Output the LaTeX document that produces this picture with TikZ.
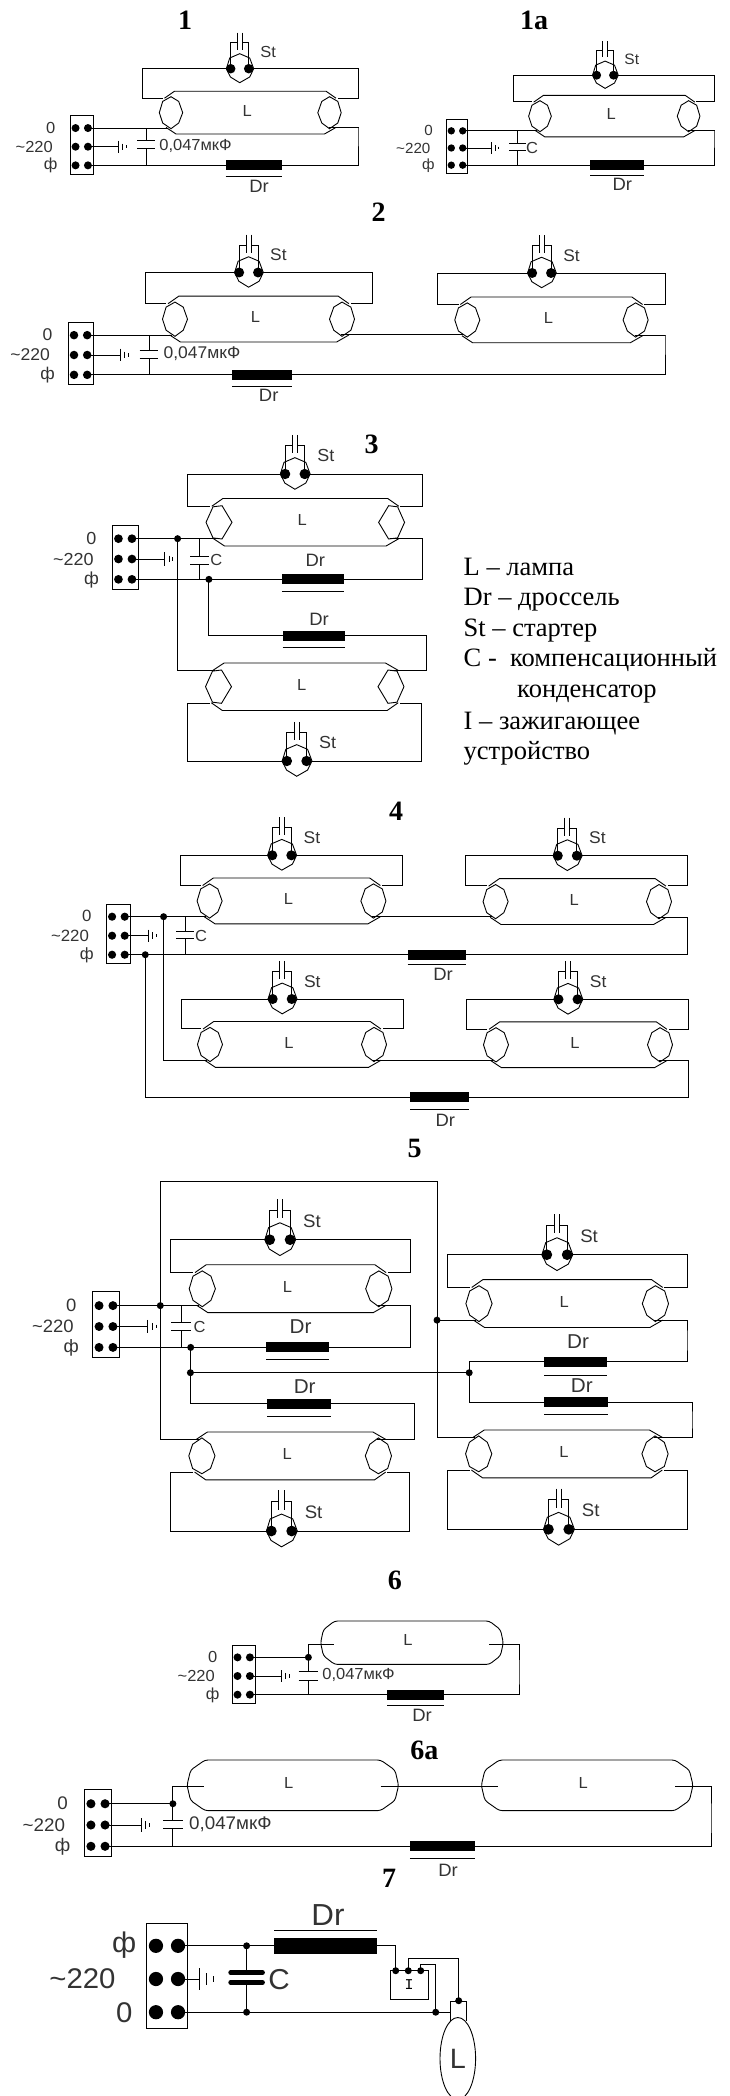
\documentclass[tikz,border=0pt]{standalone}
\usepackage{fontspec}
\setmainfont{Liberation Serif}
\newfontfamily\cadfont[FakeStretch=1.03]{Liberation Sans}
\newfontfamily\cadmono{Liberation Mono}
\usetikzlibrary{calc,shapes.geometric}
\tikzset{
    wire/.style={line width=.9pt},
    capplate/.style={wire},
    tdot/.style={circle,fill=black,inner sep=0pt,minimum size=8pt},
    sdot/.style={circle,fill=black,inner sep=0pt,minimum size=9.5pt},
    jdot/.style={circle,fill=black,inner sep=0pt,minimum size=7pt},
    lbl/.style={font=\cadfont\fontsize{16}{16}\selectfont,text=black!80,inner sep=0pt},
    drl/.style={lbl,scale=1.12},
    figno/.style={font=\bfseries\fontsize{28}{28}\selectfont,inner sep=0pt},
    legendline/.style={font=\fontsize{26.5}{26.5}\selectfont,anchor=base west,inner sep=0pt}
}
\newcommand{\octa}{(0,-16) -- (7.7,-11.3) -- (11.7,0) -- (7.7,10.3) -- (0,16) -- (-8.3,10.3) -- (-11.7,0) -- (-8.3,-11.3) -- cycle}
\newcommand{\hexa}{(-11.7,0) -- (-5.4,-14) -- (2.7,-15) -- (11.7,0) -- (2.7,15) -- (-5.4,14) -- cycle}
\newcommand{\termblock}[7][-31]{
    \begin{scope}[shift={(#3,#4)},scale=#5,transform shape]
        \draw[wire] (-11.75,-31) rectangle (11.75,27.5);
        \foreach \rw/\ry in {a/-18.65,b/0,c/18.65}
        {
            \node[tdot] (#2-\rw0) at (-6.2,\ry) {};
            \node[tdot] (#2-\rw) at (6.2,\ry) {};
        }
        \node[lbl] (#2-ta) at (#1,-19) {#6};
        \node[lbl] (#2-tb) at (-47.5,0) {\textasciitilde220};
        \node[lbl] (#2-tc) at (#1,19) {#7};
    \end{scope}
}
\newcommand{\earth}[4]{
    \coordinate (#1) at (#2,0 |- #3);
    \begin{scope}[shift={(#1)},scale=#4]
        \draw[wire] (0,-6) -- (0,6) (4.1,-3.2) -- (4.1,3.2) (7.5,-1.6) -- (7.5,1.6);
    \end{scope}
}
\newcommand{\capac}[5][3.8]{
    \begin{scope}[shift={(#3,#4)},scale=#5]
        \draw[capplate] (-9,-#1) -- (9,-#1) (-9,#1) -- (9,#1);
        \coordinate (#2-t) at (0,-#1);
        \coordinate (#2-b) at (0,#1);
    \end{scope}
}
\newcommand{\mains}[8]{
    \termblock{b#1}{#2}{#3}{#4}{0}{ф}
    \earth{e#1}{#5}{b#1-b}{#4}
    \capac{c#1}{#6}{#7}{#8}
    \draw[wire] (b#1-b.center) -- (e#1);
    \draw[wire] (c#1-t |- b#1-a) -- (c#1-t) (c#1-b) -- (c#1-b |- b#1-c);
}
\newcommand{\starter}[4]{
    \begin{scope}[shift={(#2,#3)},scale=#4,transform shape]
        \draw[wire] (0,-15) -- (10,-10.7) -- (14,0) -- (10,8.3) -- (0,14) -- (-9.3,8.3) -- (-13.3,0) -- (-10,-10.7) -- cycle;
        \draw[wire] (-9,0) -- (-9,-26) -- (-2.3,-26) (-2.3,-36) -- (-2.3,-19);
        \draw[wire] (9,0) -- (9,-26) -- (2.3,-26) (2.3,-36) -- (2.3,-19);
        \node[sdot] (#1-l) at (-9,0) {};
        \node[sdot] (#1-r) at (9,0) {};
        \node[lbl] (#1-t) at (28.4,-16.7) {St};
    \end{scope}
}
\newcommand{\lamp}[7][\octa]{
    \pgfmathsetmacro\lspan{(#4-#3)/#6}
    \begin{scope}[shift={(#3,#5)},xscale=#6,yscale=#6*#7]
        \draw[wire] (-6.5,-14.5) -- (3.5,-21.5) -- (\lspan-3.5,-21.5) -- (\lspan+6.5,-14.5);
        \draw[wire] (-5,14.7) -- (5,21.3) -- (\lspan-5,21.3) -- (\lspan+6.5,14.7);
        \draw[wire] #1;
        \draw[wire,shift={(\lspan,0)},xscale=-1] #1;
        \coordinate (#2-rl) at (-8,-14.7);
        \coordinate (#2-rr) at (\lspan+8,-14.7);
        \coordinate (#2-fl) at (-3,14.7);
        \coordinate (#2-fr) at (\lspan-1,14.7);
    \end{scope}
    \node[lbl] (#2-t) at ({(#3+#4)/2-3},#5-2) {L};
}
\newcommand{\tube}[6]{
    \pgfmathsetmacro\lspan{#3-#2}
    \begin{scope}[shift={(#2,#4)}]
        \draw[wire,rounded corners=3pt] (0,0) -- (.2*#6,-.6*#5) -- (#6,-#5) -- (\lspan-#6,-#5) -- (\lspan-.2*#6,-.6*#5) -- (\lspan,0)
            -- (\lspan-.2*#6,.6*#5) -- (\lspan-#6,#5) -- (#6,#5) -- (.2*#6,.6*#5) -- cycle;
        \coordinate (#1-fl) at (.95*#6,1.3);
        \coordinate (#1-fr) at (\lspan-#6,1.3);
    \end{scope}
    \node[lbl] (#1-t) at ({(#2+#3)/2-4},#4-2.6) {L};
}
\newcommand{\rails}[5]{
    \draw[wire] (#1-l.center) -- (#4,0 |- #1-l) |- (#2);
    \draw[wire] (#1-r.center) -- (#5,0 |- #1-r) |- (#3);
}
\newcommand{\choke}[6][5]{
    \coordinate (#2-l) at (#3,0 |- #5);
    \coordinate (#2-r) at (#4,0 |- #5);
    \fill ([yshift=#1pt]#2-l) rectangle ([yshift=-#1pt]#2-r);
    \draw[wire] ([yshift=-#6pt]#2-l) -- ([yshift=-#6pt]#2-r);
}
\begin{document}
\begin{tikzpicture}[x=1pt,y=-1pt]
        \useasboundingbox (0,0) rectangle (729,2096);

        \node[figno] (n1) at (185,20) {1};
        \mains{1}{81.75}{146.7}{1}{118.5}{146}{144.5}{1}
        \node[lbl] (v1) at (195.5,146) {0,047мкФ};
        \starter{s1}{239.7}{68.7}{1}
        \lamp{l1}{171}{329.5}{112.7}{1}{1}
        \rails{s1}{l1-rl}{l1-rr}{142.5}{358}
        \choke{d1}{225.7}{282}{b1-c}{11}
        \node[drl] (d1-t) at (259,186) {Dr};
        \coordinate (k1) at (358,127.7);
        \draw[wire] (b1-a.center) -- (b1-a.center -| l1-fl);
        \draw[wire] (b1-c.center) -- (d1-l);
        \draw[wire] (l1-fr) -| (k1) |- (d1-r);

        \node[figno] (n1a) at (534,20) {1a};
        \mains{1a}{457}{148}{.92}{491.6}{517.8}{146.7}{.95}
        \node[lbl] (v1a) at (532,148) {C};
        \starter{s1a}{605.1}{75.2}{.94}
        \lamp{l1a}{540}{688.6}{116.2}{.97}{1}
        \rails{s1a}{l1a-rl}{l1a-rr}{513}{714}
        \choke{d1a}{590}{644}{b1a-c}{10}
        \node[drl] (d1a-t) at (622.4,184) {Dr};
        \coordinate (k1a) at (714,130.7);
        \draw[wire] (b1a-a.center) -- (b1a-a.center -| l1a-fl);
        \draw[wire] (b1a-c.center) -- (d1a-l);
        \draw[wire] (l1a-fr) -| (k1a) |- (d1a-r);

        \node[figno] (n2) at (378.5,212) {2};
        \mains{2}{80.6}{355}{1.064}{120.5}{149}{354.2}{1.05}
        \node[lbl,scale=1.06] (v2) at (202,354) {0,047мкФ};
        \starter{s2a}{248.6}{272.5}{1.05}
        \lamp{l2a}{175}{342}{319.2}{1.07}{1}
        \rails{s2a}{l2a-rl}{l2a-rr}{145}{372.4}
        \starter{s2b}{541.6}{273}{1.05}
        \lamp{l2b}{467.3}{635.6}{320}{1.07}{1}
        \rails{s2b}{l2b-rl}{l2b-rr}{437.9}{665}
        \choke{d2}{232}{292}{b2-c}{11.5}
        \node[drl] (d2-t) at (268.7,395.7) {Dr};
        \coordinate (k2) at (665,335.7);
        \draw[wire] (b2-a.center) -- (b2-a.center -| l2a-fl);
        \draw[wire] (b2-c.center) -- (d2-l);
        \draw[wire] (l2a-fr) -- (l2a-fr -| l2b-fl);
        \draw[wire] (l2b-fr) -| (k2) |- (d2-r);

        \node[figno] (n3) at (371.5,444) {3};
        \mains{3}{125.2}{559}{1.09}{164.5}{199.5}{560}{1.05}
        \node[lbl] (v3) at (216.4,560) {C};
        \node[jdot] (j3a) at (177.6,0 |- b3-a) {};
        \node[jdot] (j3b) at (208.9,0 |- b3-c) {};
        \starter{s3a}{294.9}{474}{1.09}
        \lamp[\hexa]{l3a}{219}{391.6}{522.35}{1.11}{1}
        \rails{s3a}{l3a-rl}{l3a-rr}{187.9}{422.9}
        \choke{d3a}{281.8}{344}{b3-c}{12}
        \node[drl] (d3a-t) at (315.4,560.7) {Dr};
        \choke{d3b}{282.7}{344.9}{0,635.7}{12}
        \node[drl] (d3b-t) at (319,619) {Dr};
        \lamp[\hexa]{l3b}{218.5}{391}{686.65}{1.11}{-1}
        \starter{s3b}{296.7}{761}{1.09}
        \rails{s3b}{l3b-rl}{l3b-rr}{187.4}{421.5}
        \coordinate (k3a) at (422.9,560);
        \coordinate (k3b) at (426.6,650);
        \draw[wire] (b3-a.center) -- (b3-a.center -| l3a-fl);
        \draw[wire] (b3-c.center) -- (d3a-l);
        \draw[wire] (d3a-r) -| (k3a) |- (l3a-fr);
        \draw[wire] (j3b.center) |- (d3b-l);
        \draw[wire] (d3b-r) -| (k3b) |- (l3b-fr);
        \draw[wire] (j3a.center) |- (l3b-fl);

        \foreach \ty/\tx/\txt in {575/463.5/L -- лампа,605.7/463.5/Dr -- дроссель,636.7/463.5/St -- стартер,666.7/463.5/C -\ \ компенсационный,697.7/517/конденсатор,729/463.5/I -- зажигающее,759.3/463.5/устройство}
        {
            \node[legendline] (leg\ty) at (\tx,\ty) {\txt};
        }

        \node[figno] (n4) at (396,811.7) {4};
        \mains{4}{118.4}{935.7}{1.02}{148.6}{185}{934.8}{1}
        \node[lbl] (v4) at (201,935.7) {C};
        \node[jdot] (j4a) at (163.6,0 |- b4-a) {};
        \node[jdot] (j4b) at (145.3,0 |- b4-c) {};
        \foreach \n/\sx/\sy/\xa/\xb/\cy/\ra/\rb in {a/281.8/855.3/209.6/373.4/901/180.4/402.8,b/567.3/855.7/495.6/659/901.65/465.9/687.9,c/282.2/999/210/374/1044.5/181.3/403.3,d/568/999.3/496/660/1044.8/466.4/688.8}
        {
            \starter{s4\n}{\sx}{\sy}{1.06}
            \lamp{l4\n}{\xa}{\xb}{\cy}{1.07}{1}
            \rails{s4\n}{l4\n-rl}{l4\n-rr}{\ra}{\rb}
        }
        \choke{d4a}{407.5}{466.4}{b4-c}{10}
        \node[drl] (d4a-t) at (443,974.3) {Dr};
        \choke{d4b}{410.3}{468.7}{0,1097.3}{12}
        \node[drl] (d4b-t) at (445.3,1120) {Dr};
        \coordinate (k4a) at (687.9,917);
        \coordinate (k4b) at (688.8,1060);
        \draw[wire] (b4-a.center) -- (b4-a.center -| l4a-fl);
        \draw[wire] (b4-c.center) -- (d4a-l);
        \draw[wire] (l4a-fr) -- (l4a-fr -| l4b-fl);
        \draw[wire] (l4c-fr) -- (l4c-fr -| l4d-fl);
        \draw[wire] (j4a.center) |- (l4c-fl);
        \draw[wire] (l4b-fr) -| (k4a) |- (d4a-r);
        \draw[wire] (l4d-fr) -| (k4b) |- (d4b-r);
        \draw[wire] (j4b.center) |- (d4b-l);

        \node[figno] (n5) at (414.5,1148) {5};
        \mains{5}{106}{1326.5}{1.12}{147.7}{181.3}{1326.2}{1.1}
        \node[lbl] (v5) at (199.5,1326.7) {C};
        \node[jdot] (j5a) at (160.3,0 |- b5-a) {};
        \node[jdot] (j5b) at (190.7,0 |- b5-c) {};
        \node[jdot] (j5c) at (190.4,1372.7) {};
        \node[jdot] (j5d) at (469.2,1372.7) {};
        \foreach \n/\sx/\sy/\xa/\xb/\cy/\fl/\ra/\rb in {a/279.9/1239.7/202.3/378.8/1288.8/1/170.6/410.3,b/281.5/1531/201.9/378.4/1455.8/-1/170.6/409.3,c/557/1254.7/479/655.4/1303.65/1/447.7/687,d/558.6/1529.3/478.7/655/1453.8/-1/447.7/687}
        {
            \starter{s5\n}{\sx}{\sy}{1.13}
            \lamp{l5\n}{\xa}{\xb}{\cy}{1.12}{\fl}
            \rails{s5\n}{l5\n-rl}{l5\n-rr}{\ra}{\rb}
        }
        \node[jdot] (j5e) at (437,0 |- l5c-fl) {};
        \choke{d5a}{266.4}{329.4}{b5-c}{11.7}
        \node[drl,scale=1.12] (d5a-t) at (300.5,1327) {Dr};
        \choke{d5b}{267.3}{330.8}{0,1403.5}{12.8}
        \node[drl,scale=1.12] (d5b-t) at (304.7,1386.7) {Dr};
        \choke{d5c}{544}{607}{0,1361.7}{13.3}
        \node[drl,scale=1.12] (d5c-t) at (578,1341.7) {Dr};
        \choke{d5d}{544.4}{608}{0,1402}{12.7}
        \node[drl,scale=1.12] (d5d-t) at (581.8,1385.7) {Dr};
        \coordinate (k5t) at (437,1181.3);
        \coordinate (k5a) at (410.3,1326);
        \coordinate (k5b) at (414.5,1420);
        \coordinate (k5c) at (687,1340);
        \coordinate (k5d) at (692,1420);
        \draw[wire] (b5-a.center) -- (b5-a.center -| l5a-fl);
        \draw[wire] (b5-c.center) -- (d5a-l);
        \draw[wire] (j5a.center) |- (k5t) |- (l5d-fl);
        \draw[wire] (j5a.center) |- (l5b-fl);
        \draw[wire] (j5e.center) -- (l5c-fl);
        \draw[wire] (d5a-r) -| (k5a) |- (l5a-fr);
        \draw[wire] (j5b.center) |- (d5b-l);
        \draw[wire] (d5b-r) -| (k5b) |- (l5b-fr);
        \draw[wire] (j5c.center) -- (j5d.center);
        \draw[wire] (l5c-fr) -| (k5c) |- (d5c-r);
        \draw[wire] (d5c-l) -| (j5d.center) |- (d5d-l);
        \draw[wire] (d5d-r) -| (k5d) |- (l5d-fr);

        \node[figno] (n6) at (394.9,1580) {6};
        \mains{6}{243.7}{1676}{1}{281.8}{308.4}{1676}{1.1}
        \node[lbl] (v6) at (358.5,1675) {0,047мкФ};
        \node[jdot] (j6) at (308.4,0 |- b6-a) {};
        \tube{l6}{320.6}{503.3}{1642.7}{21.7}{14}
        \choke{d6}{387}{444}{b6-c}{11}
        \node[drl] (d6-t) at (422,1715) {Dr};
        \coordinate (k6) at (519,1675);
        \draw[wire] (b6-a.center) -- (j6.center);
        \draw[wire] (j6.center) |- (l6-fl);
        \draw[wire] (b6-c.center) -- (d6-l);
        \draw[wire] (l6-fr) -| (k6) |- (d6-r);

        \node[figno] (n6a) at (424.3,1750) {6a};
        \mains{6a}{98}{1825}{1.14}{141}{172.9}{1824.5}{1.1}
        \node[lbl,scale=1.14] (v6a) at (230.4,1824) {0,047мкФ};
        \node[jdot] (j6a) at (172.9,0 |- b6a-a) {};
        \tube{l6aa}{187}{398.6}{1785.3}{25.3}{18}
        \tube{l6ab}{481.3}{693}{1785.3}{25.3}{18}
        \choke{d6a}{409.8}{475.2}{b6a-c}{12}
        \node[drl] (d6a-t) at (448,1870) {Dr};
        \coordinate (k6a) at (711,1820);
        \draw[wire] (b6a-a.center) -- (j6a.center);
        \draw[wire] (j6a.center) |- (l6aa-fl);
        \draw[wire] (l6aa-fr) -- (l6ab-fl);
        \draw[wire] (l6ab-fr) -| (k6a) |- (d6a-r);
        \draw[wire] (b6a-c.center) -- (d6a-l);

        \node[figno] (n7) at (389.2,1878) {7};
        \termblock[-24]{b7}{167}{1979}{1.78}{ф}{0}
        \earth{e7}{199.6}{b7-b}{1.78}
        \node[jdot] (j7a) at (246.6,0 |- b7-a) {};
        \node[jdot] (j7b) at (246.6,0 |- b7-c) {};
        \begin{scope}[capplate/.style={line width=4.5pt,line cap=round}]
            \capac[2.7]{c7}{246.6}{1977.5}{1.78}
        \end{scope}
        \node[lbl,scale=1.8] (v7) at (279,1979.3) {C};
        \choke[8]{d7}{274}{377}{j7a}{-15.3}
        \node[lbl,scale=1.9] (d7-t) at (328,1915) {Dr};
        \node[draw,line width=.9pt,minimum width=38.3pt,minimum height=28.3pt,inner sep=0pt,font=\cadmono\fontsize{15}{15}\selectfont] (i7) at (409.15,1984.85) {I};
        \node[jdot] (t7a) at (395.7,1970.7) {};
        \node[jdot] (t7b) at (408.3,1970.7) {};
        \node[jdot] (t7c) at (420.7,1970.7) {};
        \node[jdot] (t7d) at (458.7,2000.7) {};
        \node[jdot] (j7c) at (435.7,0 |- b7-c) {};
        \coordinate (k7a) at (458.7,1958);
        \coordinate (k7b) at (435.7,1964);
        \coordinate (so7a) at (450.3,2021);
        \coordinate (so7b) at (450.3,2001.7);
        \coordinate (so7c) at (466,2001.7);
        \coordinate (so7d) at (466,2021);
        \node[draw,ellipse,line width=.9pt,minimum width=35.6pt,minimum height=82pt,inner sep=0pt,text=black!80,font=\cadfont\fontsize{28}{28}\selectfont] (l7) at (457.8,2058.5) {L};
        \draw[wire] (b7-a.center) -- (j7a.center) -- (d7-l);
        \draw[wire] (b7-b.center) -- (e7);
        \draw[wire] (j7a.center) -- (c7-t) (c7-b) -- (j7b.center);
        \draw[wire] (b7-c.center) -- (j7c.center) -- (j7c.center -| so7a);
        \draw[wire] (d7-r) -| (t7a.center);
        \draw[wire] (t7b.center) |- (k7a) -- (t7d.center);
        \draw[wire] (t7c.center) |- (k7b) -- (j7c.center);
        \draw[wire] (so7a) -- (so7b) -- (so7c) -- (so7d);
\end{tikzpicture}
\end{document}
